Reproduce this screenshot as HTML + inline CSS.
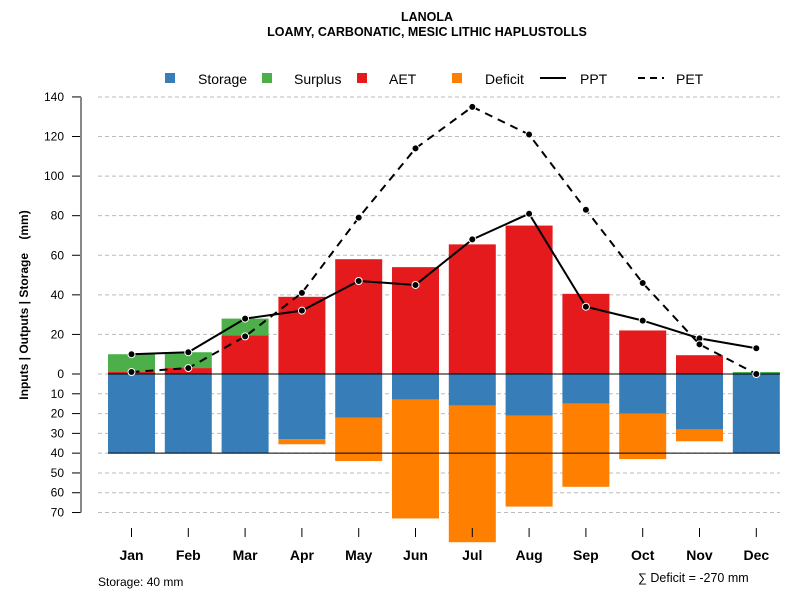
<!DOCTYPE html>
<html><head><meta charset="utf-8"><style>
body{margin:0;background:#fff}
svg{display:block;font-family:"Liberation Sans",Arial,sans-serif}
</style></head><body>
<svg id="c" width="800" height="600" xmlns="http://www.w3.org/2000/svg">
<text x="427" y="21" text-anchor="middle" font-size="12.5" font-weight="bold">LANOLA</text>
<text x="427" y="36" text-anchor="middle" font-size="12.5" font-weight="bold">LOAMY, CARBONATIC, MESIC LITHIC HAPLUSTOLLS</text>
<g id="grid"></g>
<g id="bars"></g>
<g id="lines"></g>
<g id="axes"></g>
<text transform="translate(28,305) rotate(-90)" text-anchor="middle" font-size="12" font-weight="bold" xml:space="preserve">Inputs | Outputs | Storage    (mm)</text>
<g font-size="14">
<rect x="165" y="73" width="10" height="10" fill="#377eb8"/>
<text x="198" y="84">Storage</text>
<rect x="262" y="73" width="10" height="10" fill="#4daf4a"/>
<text x="294" y="84">Surplus</text>
<rect x="357" y="73" width="10" height="10" fill="#e41a1c"/>
<text x="389" y="84">AET</text>
<rect x="452" y="73" width="10" height="10" fill="#ff7f00"/>
<text x="485" y="84">Deficit</text>
<line x1="540" y1="78" x2="566" y2="78" stroke="#000" stroke-width="2"/>
<text x="580" y="84">PPT</text>
<line x1="638" y1="78" x2="664" y2="78" stroke="#000" stroke-width="2" stroke-dasharray="7,5"/>
<text x="676" y="84">PET</text>
</g>
<text x="98" y="586" font-size="12">Storage: 40 mm</text>
<text x="638" y="582" font-size="12.5">∑ Deficit = -270 mm</text>
</svg>
<script>
const months=["Jan","Feb","Mar","Apr","May","Jun","Jul","Aug","Sep","Oct","Nov","Dec"];
const storage=[40,40,40,33,22,13,16,21,15,20,28,40];
const deficit=[0,0,0,2.5,22,60,69,46,42,23,6,0];
const aet=[1,3,19.5,39,58,54,65.5,75,40.5,22,9.5,0];
const surplus=[9,8,8.5,0,0,0,0,0,0,0,0,1];
const ppt=[10,11,28,32,47,45,68,81,34,27,18,13];
const pet=[1,3,19,41,79,114,135,121,83,46,15,0];
const posTicks=[0,20,40,60,80,100,120,140];
const negTicks=[10,20,30,40,50,60,70];
const NS="http://www.w3.org/2000/svg";
const y=v=>374-v*1.979;
const x=i=>131.5+i*56.8;
const bw=47;
function mk(p,tag,a){const e=document.createElementNS(NS,tag);for(const k in a)e.setAttribute(k,a[k]);p.appendChild(e);return e;}
const G=document.getElementById('grid'),B=document.getElementById('bars'),L=document.getElementById('lines'),A=document.getElementById('axes');
const allT=posTicks.map(v=>[v,String(v)]).concat(negTicks.map(v=>[-v,String(v)]));
allT.forEach(([v,lab])=>{
 const g=mk(G,'line',{x1:98,x2:780,y1:y(v),y2:y(v),stroke:'#bbb','stroke-dasharray':'4,3'});
 
 
 const t=mk(A,'line',{x1:72,x2:81,y1:y(v),y2:y(v),stroke:'#000'});
 
 
 const tx=mk(A,'text',{x:64,y:y(v)+4,'text-anchor':'end','font-size':12});
 tx.textContent=lab;
 
 
});
const ax=mk(A,'line',{x1:81,x2:81,y1:y(140),y2:y(-70),stroke:'#888','stroke-width':2});


months.forEach((m,i)=>{
 const cx=x(i),x0=cx-bw/2;
 const r1=mk(B,'rect',{x:x0,y:y(0),width:bw,height:y(-storage[i])-y(0),fill:'#377eb8'});
 
 
 if(deficit[i]>0){const r=mk(B,'rect',{x:x0,y:y(-storage[i]),width:bw,height:y(-storage[i]-deficit[i])-y(-storage[i]),fill:'#ff7f00'});
 
 }
 if(aet[i]>0){const r=mk(B,'rect',{x:x0,y:y(aet[i]),width:bw,height:y(0)-y(aet[i]),fill:'#e41a1c'});
 
 }
 if(surplus[i]>0){const r=mk(B,'rect',{x:x0,y:y(aet[i]+surplus[i]),width:bw,height:y(aet[i])-y(aet[i]+surplus[i]),fill:'#4daf4a'});
 
 }
 const t=mk(A,'line',{x1:cx,x2:cx,y1:528,y2:537,stroke:'#000'});
 
 
 const tx=mk(A,'text',{x:cx,y:560,'text-anchor':'middle','font-size':14,'font-weight':'bold'});
 tx.textContent=m;
 
 
});
const z=mk(B,'line',{x1:x(0)-bw/2,x2:780,y1:y(0),y2:y(0),stroke:'#000'});


const sl=mk(B,'line',{x1:x(0)-bw/2,x2:780,y1:y(-40),y2:y(-40),stroke:'#000'});


function series(vals,dash,name){
 const p=mk(L,'polyline',{points:vals.map((v,i)=>x(i)+','+y(v)).join(' '),fill:'none',stroke:'#000','stroke-width':2});
 if(dash)p.setAttribute('stroke-dasharray','8,6');
 
 
 vals.forEach((v,i)=>{const c=mk(L,'circle',{cx:x(i),cy:y(v),r:3.5,fill:'#000',stroke:'#fff','stroke-width':1});
 
 });
}
series(ppt,false,'ppt');
series(pet,true,'pet');
</script>
</body></html>
